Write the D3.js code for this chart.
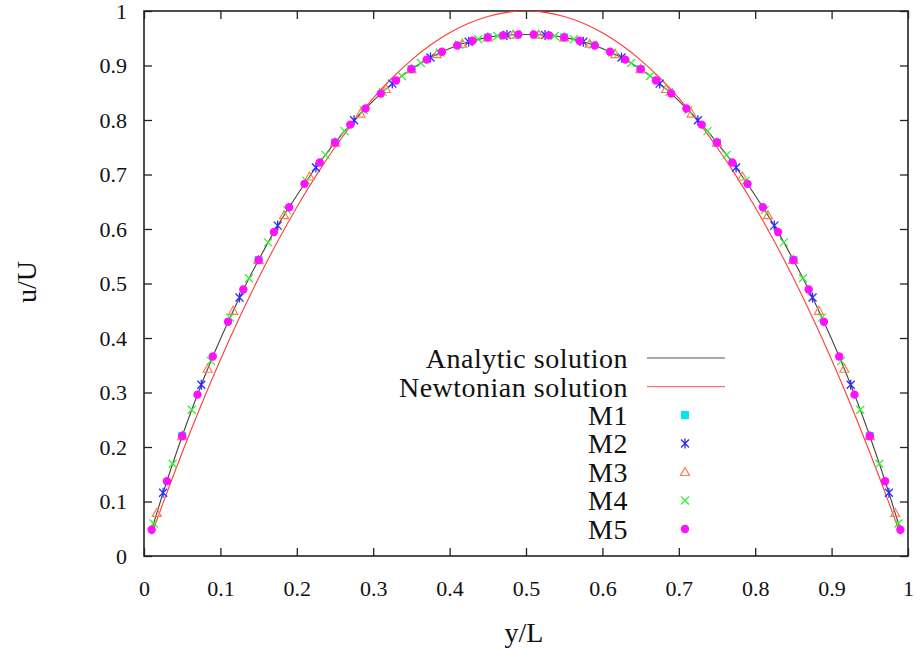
<!DOCTYPE html>
<html>
<head>
<meta charset="utf-8">
<script src="https://d3js.org/d3.v7.min.js"></script>
<style>
  body { margin: 0; background: #fff; }
  text { font-family: "Liberation Serif", "Times New Roman", serif; fill: #111; }
</style>
</head>
<body>
<div id="chart"></div>
<script>
// tick values / labels
const xTicks = [0, 0.1, 0.2, 0.3, 0.4, 0.5, 0.6, 0.7, 0.8, 0.9, 1];
const yTicks = [0, 0.1, 0.2, 0.3, 0.4, 0.5, 0.6, 0.7, 0.8, 0.9, 1];
const tickLabels = ["0", "0.1", "0.2", "0.3", "0.4", "0.5", "0.6", "0.7", "0.8", "0.9", "1"];

// reference curves
const curveX = [0.01, 0.025, 0.05, 0.075, 0.1, 0.125, 0.15, 0.175, 0.2, 0.225, 0.25, 0.275, 0.3, 0.325, 0.35, 0.375, 0.4, 0.425, 0.45, 0.475, 0.5,
  0.525, 0.55, 0.575, 0.6, 0.625, 0.65, 0.675, 0.7, 0.725, 0.75, 0.775, 0.8, 0.825, 0.85, 0.875, 0.9, 0.925, 0.95, 0.975, 0.99];
const analyticU = [0.0481, 0.1160, 0.2201, 0.3143, 0.3981, 0.4744, 0.5431, 0.6062, 0.6614, 0.7128, 0.7586, 0.7996, 0.8352, 0.8668, 0.8933, 0.9147, 0.9314, 0.9436, 0.9516, 0.9559, 0.9570,
  0.9559, 0.9516, 0.9436, 0.9314, 0.9147, 0.8933, 0.8668, 0.8352, 0.7996, 0.7586, 0.7128, 0.6614, 0.6062, 0.5431, 0.4744, 0.3981, 0.3143, 0.2201, 0.1160, 0.0481];
const newtonianU = [0.0396, 0.0975, 0.19, 0.2775, 0.36, 0.4375, 0.51, 0.5775, 0.64, 0.6975, 0.75, 0.7975, 0.84, 0.8775, 0.91, 0.9375, 0.96, 0.9775, 0.99, 0.9975, 1.0,
  0.9975, 0.99, 0.9775, 0.96, 0.9375, 0.91, 0.8775, 0.84, 0.7975, 0.75, 0.6975, 0.64, 0.5775, 0.51, 0.4375, 0.36, 0.2775, 0.19, 0.0975, 0.0396];

// mesh results
const m1X = [0.05, 0.15, 0.25, 0.35, 0.45, 0.55, 0.65, 0.75, 0.85, 0.95];
const m1U = [0.2201, 0.5431, 0.7586, 0.8933, 0.9516, 0.9516, 0.8933, 0.7586, 0.5431, 0.2201];

const m2X = [0.025, 0.075, 0.125, 0.175, 0.225, 0.275, 0.325, 0.375, 0.425, 0.475,
  0.525, 0.575, 0.625, 0.675, 0.725, 0.775, 0.825, 0.875, 0.925, 0.975];
const m2U = [0.1160, 0.3143, 0.4744, 0.6062, 0.7128, 0.7996, 0.8668, 0.9147, 0.9436, 0.9559,
  0.9559, 0.9436, 0.9147, 0.8668, 0.7996, 0.7128, 0.6062, 0.4744, 0.3143, 0.1160];

const m3X = [0.0167, 0.05, 0.0833, 0.1167, 0.15, 0.1833, 0.2167, 0.25, 0.2833, 0.3167, 0.35, 0.3833, 0.4167, 0.45, 0.4833,
  0.5167, 0.55, 0.5833, 0.6167, 0.65, 0.6833, 0.7167, 0.75, 0.7833, 0.8167, 0.85, 0.8833, 0.9167, 0.95, 0.9833];
const m3U = [0.0790, 0.2201, 0.3436, 0.4499, 0.5431, 0.6253, 0.6963, 0.7586, 0.8118, 0.8569, 0.8933, 0.9208, 0.9400, 0.9516, 0.9565,
  0.9565, 0.9516, 0.9400, 0.9208, 0.8933, 0.8569, 0.8118, 0.7586, 0.6963, 0.6253, 0.5431, 0.4499, 0.3436, 0.2201, 0.0790];

const m4X = [0.0125, 0.0375, 0.0625, 0.0875, 0.1125, 0.1375, 0.1625, 0.1875, 0.2125, 0.2375, 0.2625, 0.2875, 0.3125, 0.3375, 0.3625, 0.3875, 0.4125, 0.4375, 0.4625, 0.4875,
  0.5125, 0.5375, 0.5625, 0.5875, 0.6125, 0.6375, 0.6625, 0.6875, 0.7125, 0.7375, 0.7625, 0.7875, 0.8125, 0.8375, 0.8625, 0.8875, 0.9125, 0.9375, 0.9625, 0.9875];
const m4U = [0.0597, 0.1692, 0.2684, 0.3579, 0.4379, 0.5097, 0.5755, 0.6346, 0.6882, 0.7360, 0.7797, 0.8180, 0.8517, 0.8807, 0.9046, 0.9236, 0.9380, 0.9481, 0.9542, 0.9568,
  0.9568, 0.9542, 0.9481, 0.9380, 0.9236, 0.9046, 0.8807, 0.8517, 0.8180, 0.7797, 0.7360, 0.6882, 0.6346, 0.5755, 0.5097, 0.4379, 0.3579, 0.2684, 0.1692, 0.0597];

const m5X = [0.01, 0.03, 0.05, 0.07, 0.09, 0.11, 0.13, 0.15, 0.17, 0.19, 0.21, 0.23, 0.25, 0.27, 0.29, 0.31, 0.33, 0.35, 0.37, 0.39, 0.41, 0.43, 0.45, 0.47, 0.49,
  0.51, 0.53, 0.55, 0.57, 0.59, 0.61, 0.63, 0.65, 0.67, 0.69, 0.71, 0.73, 0.75, 0.77, 0.79, 0.81, 0.83, 0.85, 0.87, 0.89, 0.91, 0.93, 0.95, 0.97, 0.99];
const m5U = [0.0481, 0.1372, 0.2201, 0.2961, 0.3661, 0.4298, 0.4889, 0.5431, 0.5943, 0.6398, 0.6828, 0.7221, 0.7586, 0.7915, 0.8211, 0.8485, 0.8725, 0.8933, 0.9108, 0.9253, 0.9368, 0.9455, 0.9516, 0.9553, 0.9569,
  0.9569, 0.9553, 0.9516, 0.9455, 0.9368, 0.9253, 0.9108, 0.8933, 0.8725, 0.8485, 0.8211, 0.7915, 0.7586, 0.7221, 0.6828, 0.6398, 0.5943, 0.5431, 0.4889, 0.4298, 0.3661, 0.2961, 0.2201, 0.1372, 0.0481];

const width = 920, height = 651;
const plotL = 144, plotR = 908, plotT = 11, plotB = 556;

let svg = d3.select("#chart").append("svg")
  .attr("width", width)
  .attr("height", height);

let x = d3.scaleLinear().domain([0, 1]).range([plotL, plotR]);
let y = d3.scaleLinear().domain([0, 1]).range([plotB, plotT]);

svg.append("clipPath").attr("id", "plotclip")
  .append("rect")
  .attr("x", plotL).attr("y", plotT)
  .attr("width", plotR - plotL).attr("height", plotB - plotT);

// axes, ticks point inwards and are mirrored on top / right
let axB = svg.append("g").attr("transform", `translate(0,${plotB})`)
  .call(d3.axisBottom(x).tickValues(xTicks).tickSize(-8).tickPadding(24)
    .tickFormat((d) => tickLabels[xTicks.indexOf(d)]));
let axT = svg.append("g").attr("transform", `translate(0,${plotT})`)
  .call(d3.axisTop(x).tickValues(xTicks).tickSize(-8).tickFormat(""));
let axL = svg.append("g").attr("transform", `translate(${plotL},0)`)
  .call(d3.axisLeft(y).tickValues(yTicks).tickSize(-8).tickPadding(17)
    .tickFormat((d) => tickLabels[yTicks.indexOf(d)]));
let axR = svg.append("g").attr("transform", `translate(${plotR},0)`)
  .call(d3.axisRight(y).tickValues(yTicks).tickSize(-8).tickFormat(""));

[axB, axT, axL, axR].forEach((g) => {
  g.select(".domain").remove();
  g.selectAll(".tick line").attr("stroke", "#222").attr("stroke-width", 1.3);
  g.selectAll(".tick text").style("font-size", "22px").attr("fill", "#111")
    .style("font-family", '"Liberation Serif", serif');
});
// frame
svg.append("rect")
  .attr("x", plotL).attr("y", plotT)
  .attr("width", plotR - plotL).attr("height", plotB - plotT)
  .attr("fill", "none").attr("stroke", "#222").attr("stroke-width", 1.6);

// curves
let plot = svg.append("g").attr("clip-path", "url(#plotclip)");
let line = d3.line().x((d) => x(d[0])).y((d) => y(d[1])).curve(d3.curveMonotoneX);
plot.append("path")
  .attr("d", line(curveX.map((v, i) => [v, newtonianU[i]])))
  .attr("fill", "none").attr("stroke", "#ff3b3b").attr("stroke-width", 1.1);
plot.append("path")
  .attr("d", line(curveX.map((v, i) => [v, analyticU[i]])))
  .attr("fill", "none").attr("stroke", "#444").attr("stroke-width", 1.1);

// marker drawing
const series = [
  { name: "M1", xs: m1X, us: m1U, color: "#00e8f0", shape: "square" },
  { name: "M2", xs: m2X, us: m2U, color: "#2a2aff", shape: "star" },
  { name: "M3", xs: m3X, us: m3U, color: "#ff7a50", shape: "triangle" },
  { name: "M4", xs: m4X, us: m4U, color: "#30f030", shape: "cross" },
  { name: "M5", xs: m5X, us: m5U, color: "#ff10ff", shape: "circle" }
];

function drawMarker(g, cx, cy, s) {
  let h = 4;
  if (s.shape === "square") {
    g.append("rect").attr("x", cx - 4).attr("y", cy - 4).attr("width", 8).attr("height", 8)
      .attr("fill", s.color);
  } else if (s.shape === "circle") {
    g.append("circle").attr("cx", cx).attr("cy", cy).attr("r", 4.2).attr("fill", s.color);
  } else if (s.shape === "triangle") {
    g.append("path").attr("d", `M${cx},${cy - 4.5}L${cx + 4.5},${cy + 3.5}L${cx - 4.5},${cy + 3.5}Z`)
      .attr("fill", "none").attr("stroke", s.color).attr("stroke-width", 1.2);
  } else if (s.shape === "cross") {
    g.append("path").attr("d", `M${cx - h},${cy - h}L${cx + h},${cy + h}M${cx - h},${cy + h}L${cx + h},${cy - h}`)
      .attr("stroke", s.color).attr("stroke-width", 1.2);
  } else if (s.shape === "star") {
    g.append("path").attr("d", `M${cx - h},${cy - h}L${cx + h},${cy + h}M${cx - h},${cy + h}L${cx + h},${cy - h}M${cx},${cy - 5}L${cx},${cy + 5}`)
      .attr("stroke", s.color).attr("stroke-width", 1.3);
  }
}

series.forEach((s) => {
  let g = svg.append("g");
  s.xs.forEach((v, i) => drawMarker(g, x(v), y(s.us[i]), s));
});

// legend
let legendY = [358, 386.7, 415, 443.5, 472, 500.5, 529];
let legendItems = ["Analytic solution", "Newtonian solution"].concat(series.map((s) => s.name));
let legend = svg.append("g");
legend.selectAll("text")
  .data(legendItems)
  .enter().append("text")
  .attr("x", 628)
  .attr("y", (d, i) => legendY[i])
  .attr("dy", "0.35em")
  .attr("text-anchor", "end")
  .style("font-size", "28px")
  .style("letter-spacing", "0.5px")
  .text((d) => d);
legend.append("line").attr("x1", 647).attr("x2", 725).attr("y1", legendY[0]).attr("y2", legendY[0])
  .attr("stroke", "#555").attr("stroke-width", 1);
legend.append("line").attr("x1", 647).attr("x2", 725).attr("y1", legendY[1]).attr("y2", legendY[1])
  .attr("stroke", "#ff5050").attr("stroke-width", 1);
series.forEach((s, i) => drawMarker(legend, 685, legendY[i + 2], s));

// axis titles
svg.append("text")
  .attr("x", (plotL + plotR) / 2 - 2)
  .attr("y", 632)
  .attr("dy", "0.35em")
  .attr("text-anchor", "middle")
  .style("font-size", "28px")
  .text("y/L");
svg.append("text")
  .attr("transform", "translate(26,282) rotate(-90)")
  .attr("dy", "0.35em")
  .attr("text-anchor", "middle")
  .style("font-size", "28px")
  .text("u/U");
</script>
</body>
</html>
